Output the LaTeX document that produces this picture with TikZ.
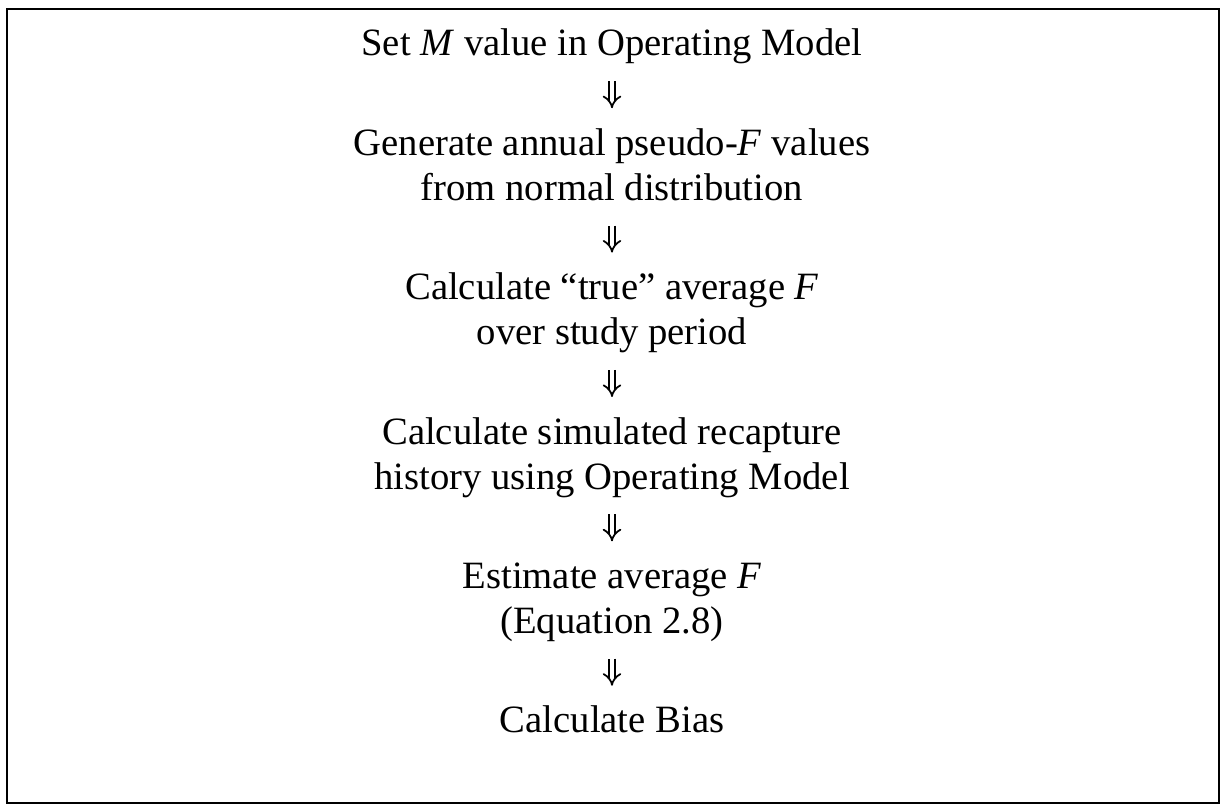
\documentclass[tikz,border=0pt]{standalone}
\usepackage{fontspec}
\setmainfont{Liberation Serif}
\usetikzlibrary{positioning,arrows.meta}

\tikzset{
  stepnode/.style={align=center, inner sep=0pt, font=\fontsize{11}{12.8}\selectfont},
  flowarrow/.style={double, double distance=1.3pt, line width=0.5pt, -{Implies[length=3.4pt, width=9pt]},
    shorten <=0.11cm, shorten >=0.15cm}
}

\begin{document}
\begin{tikzpicture}[node distance=0.53cm]
        \useasboundingbox (0,0) rectangle (12.2,-8.06);
        % Frame
        \draw[line width=0.8pt] (0.07,-0.09) rectangle (12.19,-8.03);
        % Steps
        \node[stepnode] at (6.12,-0.47) (s1) {\strut Set \textit{M} value in Operating Model};
        \node[stepnode, below=of s1] (s2) {\strut Generate annual pseudo-\textit{F} values\\\strut from normal distribution};
        \node[stepnode, below=of s2] (s3) {\strut Calculate ``true'' average \textit{F}\\\strut over study period};
        \node[stepnode, below=of s3] (s4) {\strut Calculate simulated recapture\\\strut history using Operating Model};
        \node[stepnode, below=of s4] (s5) {\strut Estimate average \textit{F}\\\strut (Equation 2.8)};
        \node[stepnode, below=of s5] (s6) {\strut Calculate Bias};
        % Arrows
        \foreach \a/\b in {s1/s2, s2/s3, s3/s4, s4/s5, s5/s6}
          \draw[flowarrow] (\a) -- (\b);
\end{tikzpicture}
\end{document}
